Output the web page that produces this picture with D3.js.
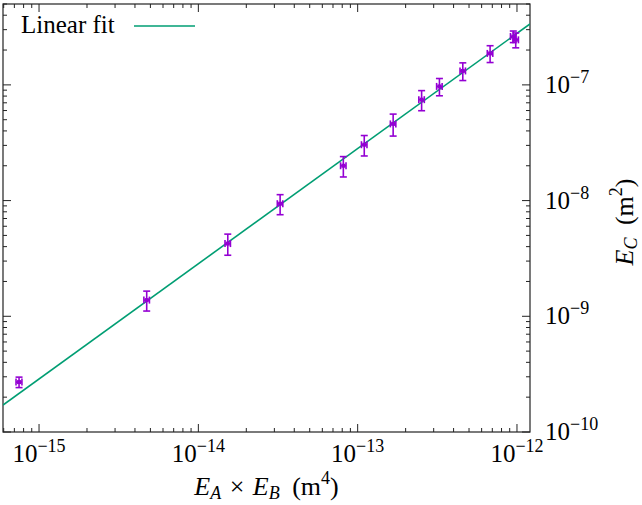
<!DOCTYPE html>
<html>
<head>
<meta charset="utf-8">
<script src="https://cdn.jsdelivr.net/npm/d3@7"></script>
<style>
  body { margin: 0; background: #fff; }
  svg { display: block; }
  text { font-family: "Liberation Serif", "DejaVu Serif", serif; fill: #000; }
</style>
</head>
<body>
<svg id="chart" width="642" height="505"></svg>
<script>
// measured points: E_A x E_B (m^4) against E_C (m^2)
var xValues = [7.49e-16, 4.74e-15, 1.53e-14, 3.26e-14, 8.13e-14, 1.10e-13, 1.67e-13,
               2.52e-13, 3.26e-13, 4.57e-13, 6.78e-13, 9.48e-13, 9.82e-13];
var yValues = [2.70e-10, 1.38e-9, 4.25e-9, 9.4e-9, 2.0e-8, 3.04e-8, 4.6e-8,
               7.45e-8, 9.7e-8, 1.32e-7, 1.87e-7, 2.62e-7, 2.45e-7];
var xErrors = [0.32e-16, 0.19e-15, 0.6e-15, 1.3e-15, 3.2e-15, 4.4e-15, 6.6e-15,
               1.0e-14, 1.3e-14, 1.8e-14, 2.7e-14, 3.8e-14, 3.9e-14];
var yErrors = [0.28e-10, 0.27e-9, 0.88e-9, 1.85e-9, 0.4e-8, 0.61e-8, 0.99e-8,
               1.47e-8, 1.65e-8, 0.23e-7, 0.31e-7, 0.30e-7, 0.36e-7];

// fit: log10(y) = fitIntercept + fitSlope * log10(x)
var fitSlope = 0.9957;
var fitIntercept = 5.394;

var xDomain = [5.94e-16, 1.207e-12];
var yDomain = [1e-10, 5.0e-7];
var xTickExponents = [-15, -14, -13, -12];
var yTickExponents = [-10, -9, -8, -7];

var purple = "#9400d3",
    green = "#009e73";

var pLeft = 3, pRight = 530, pTop = 4, pBottom = 432;

var svg = d3.select("#chart");

var x = d3.scaleLog().domain(xDomain).range([pLeft, pRight]);
var y = d3.scaleLog().domain(yDomain).range([pBottom, pTop]);

// minor + major tick positions for a log axis
function logTicks(domain) {
    var out = [];
    var lo = Math.floor(Math.log10(domain[0])), hi = Math.ceil(Math.log10(domain[1]));
    for (var e = lo; e <= hi; e++) {
        for (var m = 1; m <= 9; m++) {
            var v = m * Math.pow(10, e);
            if (v >= domain[0] && v <= domain[1]) out.push({ v: v, major: m === 1 });
        }
    }
    return out;
}

var xt = logTicks(xDomain), yt = logTicks(yDomain);
var axisG = svg.append("g").attr("stroke", "#222").attr("stroke-width", 1);

axisG.selectAll("line.xb").data(xt).enter().append("line")
    .attr("x1", function (d) { return x(d.v); })
    .attr("x2", function (d) { return x(d.v); })
    .attr("y1", pBottom)
    .attr("y2", function (d) { return pBottom - (d.major ? 8 : 4); });
axisG.selectAll("line.xt").data(xt).enter().append("line")
    .attr("x1", function (d) { return x(d.v); })
    .attr("x2", function (d) { return x(d.v); })
    .attr("y1", pTop)
    .attr("y2", function (d) { return pTop + (d.major ? 8 : 4); });
axisG.selectAll("line.yr").data(yt).enter().append("line")
    .attr("y1", function (d) { return y(d.v); })
    .attr("y2", function (d) { return y(d.v); })
    .attr("x1", pRight)
    .attr("x2", function (d) { return pRight - (d.major ? 8 : 4); });
axisG.selectAll("line.yl").data(yt).enter().append("line")
    .attr("y1", function (d) { return y(d.v); })
    .attr("y2", function (d) { return y(d.v); })
    .attr("x1", pLeft)
    .attr("x2", function (d) { return pLeft + (d.major ? 8 : 4); });

svg.append("rect")
    .attr("x", pLeft).attr("y", pTop)
    .attr("width", pRight - pLeft).attr("height", pBottom - pTop)
    .attr("fill", "none").attr("stroke", "#222").attr("stroke-width", 1.2);

// tick labels 10^n
function powLabel(sel) {
    sel.append("tspan").attr("font-size", 25).text("10");
    sel.append("tspan").attr("font-size", 18).attr("dy", -10)
        .text(function (d) { return "\u2212" + Math.abs(d); });
}

svg.selectAll("text.xl").data(xTickExponents).enter().append("text")
    .attr("x", function (d) { return x(Math.pow(10, d)); })
    .attr("y", 462)
    .attr("text-anchor", "middle")
    .call(powLabel);

svg.selectAll("text.yl").data(yTickExponents).enter().append("text")
    .attr("x", 545)
    .attr("y", function (d) { return y(Math.pow(10, d)) + 8; })
    .call(powLabel);

// axis titles
var xt1 = svg.append("text").attr("x", (pLeft + pRight) / 2).attr("y", 495)
    .attr("text-anchor", "middle").attr("font-size", 26);
xt1.append("tspan").attr("font-style", "italic").text("E");
xt1.append("tspan").attr("font-style", "italic").attr("font-size", 18).attr("dy", 4).text("A");
xt1.append("tspan").attr("dy", -4).attr("dx", 2).text(" \u00d7 ");
xt1.append("tspan").attr("font-style", "italic").attr("dx", 2).text("E");
xt1.append("tspan").attr("font-style", "italic").attr("font-size", 18).attr("dy", 4).text("B");
xt1.append("tspan").attr("dy", -4).attr("dx", 6).text(" (m");
xt1.append("tspan").attr("font-size", 18).attr("dy", -11).text("4");
xt1.append("tspan").attr("dy", 11).text(")");

var yt1 = svg.append("text")
    .attr("transform", "translate(633,222) rotate(-90)")
    .attr("text-anchor", "middle").attr("font-size", 26);
yt1.append("tspan").attr("font-style", "italic").text("E");
yt1.append("tspan").attr("font-style", "italic").attr("font-size", 18).attr("dy", 4).text("C");
yt1.append("tspan").attr("dy", -4).attr("dx", 6).text(" (m");
yt1.append("tspan").attr("font-size", 18).attr("dy", -11).text("2");
yt1.append("tspan").attr("dy", 11).text(")");

// plot contents
svg.append("clipPath").attr("id", "clip").append("rect")
    .attr("x", pLeft).attr("y", pTop).attr("width", pRight - pLeft).attr("height", pBottom - pTop);
var plot = svg.append("g").attr("clip-path", "url(#clip)");

var fitLine = d3.line()
    .x(function (d) { return x(d); })
    .y(function (d) { return y(Math.pow(10, fitIntercept + fitSlope * Math.log10(d))); });
plot.append("path")
    .datum(xDomain)
    .attr("d", fitLine)
    .attr("fill", "none").attr("stroke", green).attr("stroke-width", 1.6);

var points = xValues.map(function (v, i) {
    return { x: v, y: yValues[i], dx: xErrors[i], dy: yErrors[i] };
});

var cap = 3.5;
var pg = plot.selectAll("g.pt").data(points).enter().append("g")
    .attr("stroke", purple).attr("stroke-width", 1.6).attr("fill", purple);

pg.append("line")
    .attr("x1", function (d) { return x(d.x); }).attr("x2", function (d) { return x(d.x); })
    .attr("y1", function (d) { return y(d.y - d.dy); }).attr("y2", function (d) { return y(d.y + d.dy); });
pg.append("line")
    .attr("x1", function (d) { return x(d.x) - cap; }).attr("x2", function (d) { return x(d.x) + cap; })
    .attr("y1", function (d) { return y(d.y - d.dy); }).attr("y2", function (d) { return y(d.y - d.dy); });
pg.append("line")
    .attr("x1", function (d) { return x(d.x) - cap; }).attr("x2", function (d) { return x(d.x) + cap; })
    .attr("y1", function (d) { return y(d.y + d.dy); }).attr("y2", function (d) { return y(d.y + d.dy); });
pg.append("line")
    .attr("x1", function (d) { return x(d.x - d.dx); }).attr("x2", function (d) { return x(d.x + d.dx); })
    .attr("y1", function (d) { return y(d.y); }).attr("y2", function (d) { return y(d.y); });
pg.append("line")
    .attr("x1", function (d) { return x(d.x - d.dx); }).attr("x2", function (d) { return x(d.x - d.dx); })
    .attr("y1", function (d) { return y(d.y) - cap; }).attr("y2", function (d) { return y(d.y) + cap; });
pg.append("line")
    .attr("x1", function (d) { return x(d.x + d.dx); }).attr("x2", function (d) { return x(d.x + d.dx); })
    .attr("y1", function (d) { return y(d.y) - cap; }).attr("y2", function (d) { return y(d.y) + cap; });
pg.append("rect")
    .attr("x", function (d) { return x(d.x) - 2; }).attr("y", function (d) { return y(d.y) - 2; })
    .attr("width", 4).attr("height", 4).attr("stroke", "none");

// legend
svg.append("text").attr("x", 21).attr("y", 33).attr("font-size", 25).text("Linear fit");
svg.append("line").attr("x1", 134).attr("x2", 195).attr("y1", 26).attr("y2", 26)
    .attr("stroke", green).attr("stroke-width", 1.6);
</script>
</body>
</html>
